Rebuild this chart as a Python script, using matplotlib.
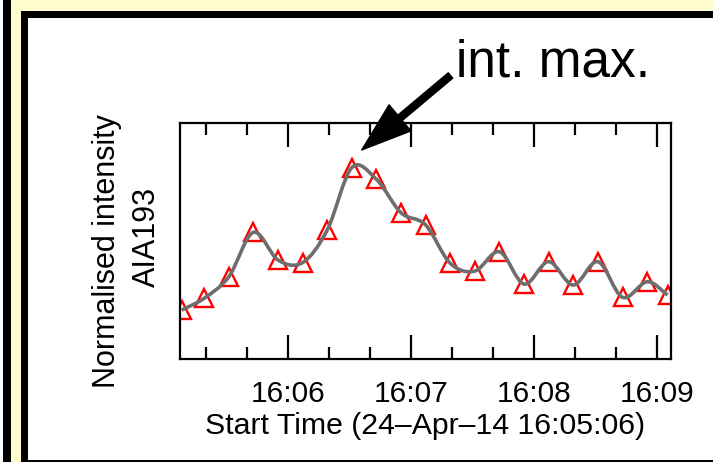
import numpy as np
import matplotlib
matplotlib.use('Agg')
import matplotlib.pyplot as plt
from matplotlib.path import Path
from matplotlib.patches import PathPatch, Rectangle

plt.rcParams['font.family'] = ['Liberation Sans', 'DejaVu Sans']

# seconds after 16:05:06 and normalised AIA 193 intensity
t_sec = [2, 13, 25, 37, 49, 61, 73, 85, 97, 109, 121,
         133, 145, 157, 169, 181, 193, 205, 217, 229, 239]
intensity = [0.207, 0.257, 0.348, 0.536, 0.419, 0.408, 0.546, 0.810, 0.760, 0.619, 0.567,
             0.405, 0.372, 0.454, 0.317, 0.412, 0.313, 0.412, 0.261, 0.327, 0.271]

tick_secs = [54, 114, 174, 234]
tick_labels = ['16:06', '16:07', '16:08', '16:09']

W, H = 713, 462


def fx(px):
    return px / W


def fy(py):
    return 1 - py / H


def smooth_path(x, y):
    # Catmull-Rom curve through the samples, as cubic Bezier segments
    pts = np.column_stack([x, y]).astype(float)
    ext = np.vstack([2 * pts[0] - pts[1], pts, 2 * pts[-1] - pts[-2]])
    verts = [pts[0]]
    codes = [Path.MOVETO]
    for i in range(len(pts) - 1):
        p0, p1, p2, p3 = ext[i], ext[i + 1], ext[i + 2], ext[i + 3]
        verts += [p1 + (p2 - p0) / 6, p2 - (p3 - p1) / 6, p2]
        codes += [Path.CURVE4] * 3
    return Path(verts, codes)


fig = plt.figure(figsize=(W / 100, H / 100), dpi=100)

# slide frame
yellow = '#fffccd'
fig.add_artist(Rectangle((fx(3), 0), fx(8), 1, transform=fig.transFigure, color='black', lw=0))
fig.add_artist(Rectangle((fx(11), 0), fx(10), 1, transform=fig.transFigure, color=yellow, lw=0))
fig.add_artist(Rectangle((fx(11), fy(11)), 1, 11 / H, transform=fig.transFigure, color=yellow, lw=0))
fig.add_artist(Rectangle((fx(21), 0), fx(7), fy(11), transform=fig.transFigure, color='black', lw=0))
fig.add_artist(Rectangle((fx(21), fy(18)), 1, 7 / H, transform=fig.transFigure, color='black', lw=0))
fig.add_artist(Rectangle((fx(21), 0), 1, 2.5 / H, transform=fig.transFigure, color='black', lw=0))

ax = fig.add_axes([fx(180), fy(359), (670.7 - 180) / W, (359 - 122.7) / H])
ax.plot(t_sec, intensity, linestyle='none', marker='^', markersize=13,
        markerfacecolor='none', markeredgecolor='red', markeredgewidth=1.7, zorder=2)
ax.add_patch(PathPatch(smooth_path(t_sec, intensity), facecolor='none',
                       edgecolor='#6e6e6e', lw=2.6, zorder=3))

ax.set_xlim(1.2, 240.5)
ax.set_ylim(0, 1)
ax.set_xticks(tick_secs, tick_labels)
ax.xaxis.set_minor_locator(plt.MultipleLocator(20, offset=14))
ax.tick_params(axis='x', which='both', direction='in', top=True, width=1.6,
               labelsize=21.5, pad=15)
ax.tick_params(axis='x', which='major', length=17.5)
ax.tick_params(axis='x', which='minor', length=8.6)
ax.tick_params(axis='y', left=False, labelleft=False)
for s in ax.spines.values():
    s.set_linewidth(1.6)
ax.set_xlabel('Start Time (24\u2013Apr\u201314 16:05:06)', fontsize=21.8, labelpad=3)

fig.text(fx(115), fy(251), 'Normalised intensity', rotation=90, rotation_mode='anchor',
         ha='center', va='baseline', fontsize=22)
fig.text(fx(155), fy(236.7), 'AIA193', rotation=90, rotation_mode='anchor',
         ha='center', va='baseline', fontsize=22)

fig.text(fx(456), fy(76.7), 'int. max.', ha='left', va='baseline', fontsize=37)
ax.annotate('', xy=(361.7, H - 150), xytext=(450.5, H - 75.5),
            xycoords='figure pixels', textcoords='figure pixels',
            arrowprops=dict(facecolor='black', edgecolor='black', width=5,
                            headwidth=24.5, headlength=36, shrink=0))

fig.savefig('out.png', dpi=100)
